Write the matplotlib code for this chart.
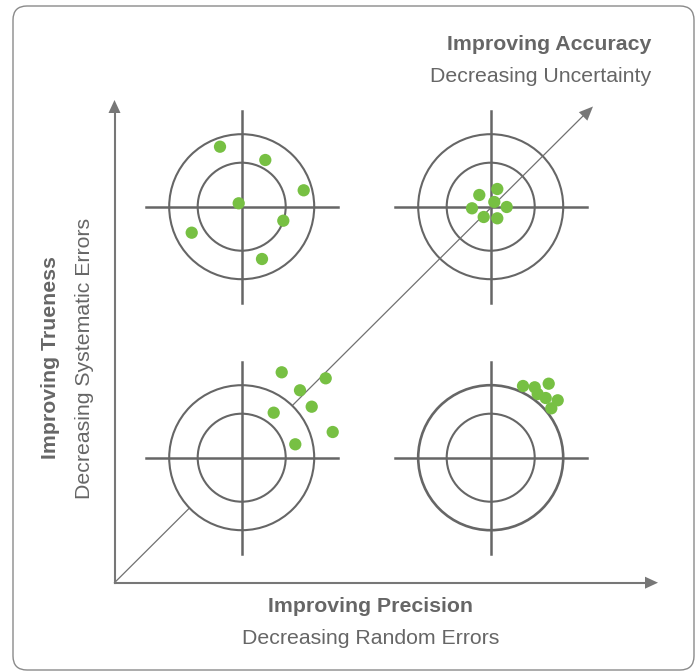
import matplotlib.pyplot as plt
from matplotlib.patches import Circle, Polygon, FancyBboxPatch

# dot offsets from each target centre (pixels, y pointing down)
tl_dx = [-21.7, 23.6, 62.0, -3.0, 41.6, -50.0, 20.3]
tl_dy = [-60.0, -46.7, -16.4, -3.4, 14.0, 26.0, 52.3]
tr_dx = [-11.4, 6.6, 3.6, -18.7, 16.0, -7.0, 6.6]
tr_dy = [-11.7, -17.7, -4.7, 1.6, 0.3, 10.3, 11.6]
bl_dx = [40.0, 84.0, 58.3, 70.0, 32.0, 91.0, 53.6]
bl_dy = [-85.4, -79.4, -67.4, -51.0, -45.0, -25.7, -13.4]
br_dx = [32.3, 44.0, 58.0, 47.0, 55.0, 67.0, 60.6]
br_dy = [-71.7, -70.4, -74.0, -63.7, -59.7, -57.4, -49.4]

x_title = "Improving Precision"
x_sub = "Decreasing Random Errors"
y_title = "Improving Trueness"
y_sub = "Decreasing Systematic Errors"
d_title = "Improving Accuracy"
d_sub = "Decreasing Uncertainty"

grey = '#666666'
green = '#77c043'
fs = 15.3
plt.rcParams['font.family'] = ['Liberation Sans', 'DejaVu Sans']

fig = plt.figure(figsize=(6.95, 6.71), dpi=100)
ax = fig.add_axes([0, 0, 1, 1])
ax.set_xlim(0, 695)
ax.set_ylim(671, 0)
ax.axis('off')

# frame
ax.add_patch(FancyBboxPatch((13, 6), 681, 664, boxstyle='round,pad=0,rounding_size=14',
                            fc='white', ec='#8a8a8a', lw=1.0, zorder=0))

ox, oy = 114.5, 582.7

def head(tip, direction, length=13, width=12, z=4):
    dx, dy = direction
    n = (dx ** 2 + dy ** 2) ** 0.5
    dx, dy = dx / n, dy / n
    bx, by = tip[0] - dx * length, tip[1] - dy * length
    px, py = -dy * width / 2, dx * width / 2
    ax.add_patch(Polygon([tip, (bx + px, by + py), (bx - px, by - py)],
                         closed=True, fc='#777777', ec='none', zorder=z))

# axes arrows
ax.plot([ox, ox], [oy, 110], color='#777777', lw=1.5, zorder=4)
head((ox, 100), (0, -1))
ax.plot([ox, 648], [oy, oy], color='#777777', lw=1.5, zorder=4)
head((658, oy), (1, 0))
# diagonal
ax.plot([ox, 585], [oy, 114], color='#707070', lw=0.9, zorder=2)
head((593, 106.5), (1, -1), length=14, width=12, z=2)

def target(cx, cy, dxs, dys, z, outer_lw=1.5):
    ax.add_patch(Circle((cx, cy), 72.5, fc='white', ec=grey, lw=outer_lw, zorder=z))
    ax.add_patch(Circle((cx, cy), 44, fc='none', ec=grey, lw=1.5, zorder=z))
    ax.plot([cx - 96, cx + 96], [cy, cy], color=grey, lw=1.8, zorder=z)
    ax.plot([cx, cx], [cy - 96, cy + 96], color=grey, lw=1.8, zorder=z)
    ax.scatter([cx + d for d in dxs], [cy + d for d in dys], s=78, color=green,
               edgecolors='none', zorder=5)

target(241.7, 206.7, tl_dx, tl_dy, 3)
target(490.7, 206.7, tr_dx, tr_dy, 1)
target(241.7, 457.7, bl_dx, bl_dy, 3)
target(490.7, 457.7, br_dx, br_dy, 3, outer_lw=1.9)

# labels
ax.text(651, 45, d_title, ha='right', va='center', fontsize=fs, fontweight='bold', color=grey)
ax.text(651, 77, d_sub, ha='right', va='center', fontsize=fs, color=grey)
ax.text(371, 606, x_title, ha='center', va='center', fontsize=fs, fontweight='bold', color=grey)
ax.text(371, 639, x_sub, ha='center', va='center', fontsize=fs, color=grey)
ax.text(51, 358, y_title, ha='center', va='center', rotation=90, fontsize=fs,
        fontweight='bold', color=grey)
ax.text(85, 358, y_sub, ha='center', va='center', rotation=90, fontsize=fs, color=grey)

fig.savefig('out.png', dpi=100)
